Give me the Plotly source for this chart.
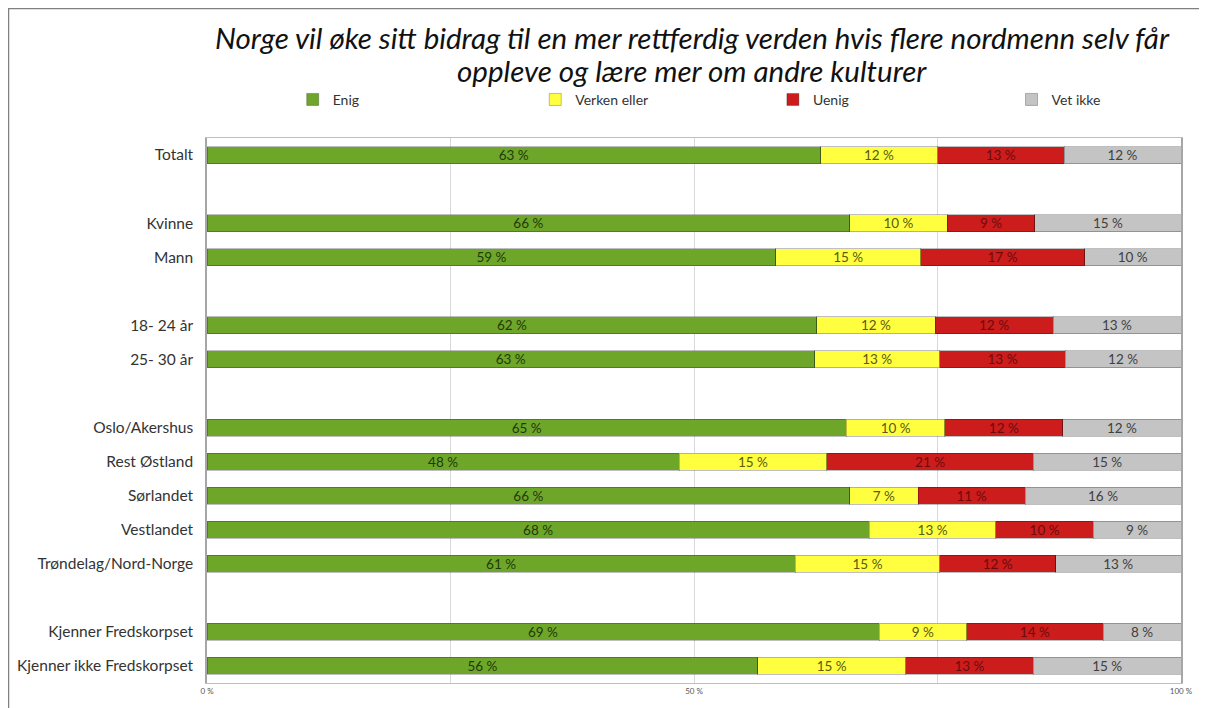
import plotly.graph_objects as go

# categories (blank entries are spacer rows between groups)
groups = ["Totalt", " ", "Kvinne", "Mann", "  ", "18- 24 år", "25- 30 år", "   ",
          "Oslo/Akershus", "Rest Østland", "Sørlandet", "Vestlandet",
          "Trøndelag/Nord-Norge", "    ", "Kjenner Fredskorpset",
          "Kjenner ikke Fredskorpset"]

enig = [63, None, 66, 59, None, 62, 63, None, 65, 48, 66, 68, 61, None, 69, 56]
verken = [12, None, 10, 15, None, 12, 13, None, 10, 15, 7, 13, 15, None, 9, 15]
uenig = [13, None, 9, 17, None, 12, 13, None, 12, 21, 11, 10, 12, None, 14, 13]
vet_ikke = [12, None, 15, 10, None, 13, 12, None, 12, 15, 16, 9, 13, None, 8, 15]

series = [
    ("Enig", enig, "#6ea62a", "#1f3a08"),
    ("Verken eller", verken, "#ffff40", "#5a5a10"),
    ("Uenig", uenig, "#cc1c1c", "#6b0c0c"),
    ("Vet ikke", vet_ikke, "#c4c4c4", "#404040"),
]
legend_x = [0.088, 0.337, 0.581, 0.826]

# page body has an 8px margin, so the figure is drawn 8px smaller
W, H = 1199, 700
L, R, T, B = 199, 26, 130, 25

fig = go.Figure()
for i, (name, vals, col, tcol) in enumerate(series):
    fig.add_trace(go.Bar(
        y=groups, x=vals, name=name, orientation="h",
        marker=dict(color=col, line=dict(color="rgba(0,0,0,0.25)", width=1)),
        text=[f"{v} %" if v is not None else "" for v in vals],
        textposition="inside", insidetextanchor="middle", textangle=0,
        textfont=dict(color=tcol, size=13.5, family="Lato"),
        width=0.5,
        legend="legend" if i == 0 else f"legend{i + 1}",
    ))

legends = {}
for i, lx in enumerate(legend_x):
    key = "legend" if i == 0 else f"legend{i + 1}"
    legends[key] = dict(orientation="h", x=lx, xanchor="left", y=1.07, yanchor="middle",
                        font=dict(size=14, color="#333333"), itemwidth=30,
                        bgcolor="rgba(0,0,0,0)")

pw, ph = W - L - R, H - T - B

fig.update_layout(
    barmode="stack", barnorm="percent",
    width=W, height=H, showlegend=True,
    margin=dict(l=L, r=R, t=T, b=B, autoexpand=False),
    paper_bgcolor="white", plot_bgcolor="white",
    font=dict(family="Lato", color="#333333"),
    uniformtext=dict(minsize=13, mode="show"),
    annotations=[
        dict(text="<i>Norge vil øke sitt bidrag til en mer rettferdig verden hvis flere nordmenn selv får</i>",
             xref="paper", yref="paper", x=0.498, y=(H - B - 29) / ph, showarrow=False,
             xanchor="center", yanchor="middle", font=dict(size=29.5, color="#111111")),
        dict(text="<i>oppleve og lære mer om andre kulturer</i>",
             xref="paper", yref="paper", x=0.498, y=(H - B - 62) / ph, showarrow=False,
             xanchor="center", yanchor="middle", font=dict(size=29.5, color="#111111")),
    ],
    xaxis=dict(range=[0, 100], tickvals=[0, 50, 100], ticktext=["0 %", "50 %", "100 %"],
               tickfont=dict(size=8, color="#555555"), showgrid=True, gridcolor="#d9d9d9",
               minor=dict(dtick=25, showgrid=True, gridcolor="#d9d9d9"),
               showline=True, linecolor="#bfbfbf", mirror=True, zeroline=False,
               automargin=False),
    yaxis=dict(categoryorder="array", categoryarray=groups, autorange="reversed",
               tickfont=dict(size=15.5, color="#333333"), ticks="", ticklabelstandoff=9,
               showline=True, linecolor="#a6a6a6", mirror=True, linewidth=1.5,
               automargin=False),
    shapes=[dict(type="rect", xref="paper", yref="paper", x0=(0.5 - L) / pw, x1=(W + 20 - L) / pw,
                 y0=-0.1, y1=(H - B - 0.5) / ph, line=dict(color="#808080", width=1.5))],
    **legends,
)

fig.write_html("out.html")
